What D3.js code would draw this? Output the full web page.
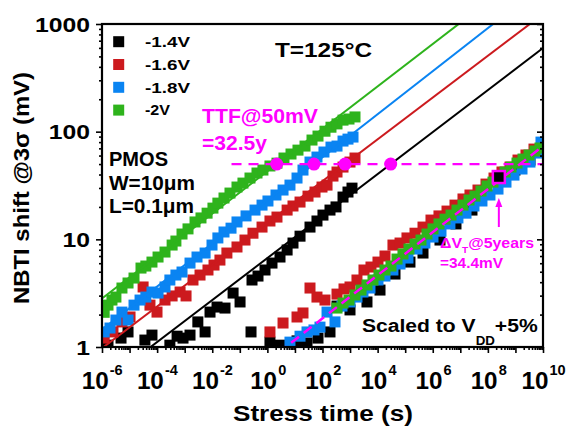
<!DOCTYPE html>
<html><head><meta charset="utf-8">
<script src="https://cdn.jsdelivr.net/npm/d3@7"></script>
<style>
body{margin:0;background:#fff}
svg{display:block}
text{font-family:"Liberation Sans",Arial,sans-serif;font-weight:bold}
</style>
</head><body>
<svg id="c" width="566" height="429"></svg>
<script>
// ---------------- data ----------------
const seriesNames = ["-1.4V","-1.6V","-1.8V","-2V"];
const seriesColors = ["#000000","#cc1a1e","#0a84f2","#2eb31c"];

// fresh (unscaled) stress data: time (s), shift (mV)
const blackT = [1.65e-6,4.9e-6,8.8e-6,3.6e-5,6.5e-5,2.9e-4,5.3e-4,8.7e-4,1.56e-3,3.0e-3,5.5e-3,8.3e-3,1.49e-2,2.9e-2,5.7e-2,0.102,0.255,0.277,0.457,0.82,1.47,2.87,5.2,8.5,15.3,35.2,63,104,187,309,555,841,1175];
const blackV = [1.04,1.21,1.38,1.16,1.29,1.04,1.26,1.21,1.29,1.71,1.38,2.11,2.35,2.3,3.17,2.62,1.38,4.19,4.56,5.19,6.02,6.85,7.96,9.24,10.7,13,14.8,16.8,18.7,20,24.7,27.5,29.9];
const redT = [1.2e-6,2.5e-6,5.3e-6,1.04e-5,3.1e-5,5.5e-5,9.9e-5,1.93e-4,3.5e-4,6.8e-4,1.12e-3,2.0e-3,3.6e-3,7.0e-3,1.16e-2,1.9e-2,3.4e-2,7.9e-2,0.154,0.3,0.64,1.24,2.23,5.2,8.5,15.3,29.8,53.5,96,146,240,336,555,995,1510];
const redV = [1.21,1.38,1.71,1.9,3.61,2.45,2.11,2.73,2.98,3.24,2.98,4.19,4.66,5.19,5.77,6.42,7.46,8.49,9.85,11.4,13,14.8,16.1,18.7,20.4,22.2,25.2,27.5,30.6,31.9,38.7,42.2,46.9,52.2,56.9];
const blueT = [1.2e-6,1.95e-6,3.2e-6,5.3e-6,8.8e-6,1.45e-5,2.4e-5,3.9e-5,6.5e-5,1.08e-4,1.93e-4,2.9e-4,4.8e-4,8.0e-4,1.56e-3,2.8e-3,5.5e-3,9.8e-3,1.6e-2,2.67e-2,4.8e-2,7.9e-2,0.168,0.356,0.64,1.05,2.05,3.7,6.6,11.9,19.6,35.2,63,113,203,336,555,841,1280];
const blueV = [1.38,1.5,1.78,2.11,1.78,2.45,2.73,2.91,3.24,3.17,3.61,4.19,4.66,4.97,6.02,6.85,7.46,8.85,10.3,11.7,12.7,14.5,16.5,18.7,20.8,22.7,25.8,28.7,31.9,37.1,44,52.2,58.1,64.7,71.9,73.5,81.8,85.3,89.1];
const greenT = [1.2e-6,1.65e-6,2.3e-6,3.2e-6,5.3e-6,8.8e-6,1.45e-5,2.6e-5,3.9e-5,6.5e-5,1.08e-4,1.93e-4,3.5e-4,4.8e-4,8.0e-4,1.32e-3,2.37e-3,3.9e-3,6.5e-3,1.06e-2,1.6e-2,2.67e-2,4.4e-2,7.9e-2,0.13,0.234,0.42,0.69,1.24,2.23,4.0,7.2,12.9,23.2,41.6,68.7,123,203,336,555,915,1510];
const greenV = [2.1,2.45,2.73,2.91,3.53,3.93,4.37,5.41,5.65,6.15,6.85,7.62,8.85,9.64,11.2,12.5,14.5,15.8,17.5,19.5,21.7,24.2,26.9,30.6,33.3,37.1,41.3,44,48,51,56.9,62,67.4,73.5,83.6,91,101,110,118,128,131,137];

// data scaled to VDD+5%
const blackST = [1.24,2.87,11.9,27.4,68.7,187,336,995,4110,1.22e4,4.27e4,1.49e5,4.43e5,1.83e6,6.97e6,2.65e7,8.55e7,9.64e8,3.37e9];
const blackSV = [1.11,1.04,1.14,1.09,1.21,1.38,2.4,2.21,2.62,3.38,4.76,6.15,7.46,9.85,13.9,18.7,26.4,44,54.5];
const redST = [1.24,3.7,11.9,19.6,35.2,63,123,336,603,995,1780,3200,5740,1.03e4,1.85e4,3.6e4,6.5e4,1.16e5,2.27e5,4.43e5,8.63e5,1.68e6,3.29e6,6.41e6,1.25e7,2.24e7,4.38e7,8.55e7,1.67e8,3.25e8,6.34e8,1.24e9,2.41e9,4.71e9];
const redSV = [1.38,1.67,1.9,2.07,3.53,2.91,2.73,3.1,3.46,3.61,4.19,5.19,5.53,6.15,7.0,8.85,9.24,10.3,11.4,13,15.1,16.5,18.3,20.8,23.7,25.8,28.7,32.6,37.1,42.2,46.9,54.5,60.7,68.9];
const blueST = [6.6,15.3,27.4,49,81,146,284,510,995,1780,2940,5280,1.03e4,1.85e4,3.6e4,6.5e4,1.26e5,2.68e5,5.2e5,1.02e6,1.99e6,4.2e6,8.2e6,1.61e7,3.13e7,6.1e7,1.19e8,2.33e8,4.54e8,8.85e8,1.73e9,3.37e9,6.58e9,8.45e9];
const blueSV = [1.11,1.26,1.38,1.44,1.53,2.11,1.71,2.4,2.62,2.91,3.24,3.53,4.19,4.56,5.19,5.9,6.7,8.13,9.24,10.5,11.9,13.9,15.8,17.5,20.4,22.7,25.8,29.3,34,39.5,45,52.2,63.3,80];
const greenST = [336,555,915,1510,2495,4110,6790,1.12e4,1.85e4,3.05e4,5.05e4,8.3e4,1.37e5,2.27e5,3.74e5,6.18e5,1.02e6,1.68e6,2.78e6,4.59e6,7.57e6,1.25e7,2.07e7,3.4e7,5.62e7,9.29e7,1.53e8,2.53e8,4.18e8,6.89e8,1.14e9,1.88e9,3.1e9,5.12e9,7.76e9];
const greenSV = [2.3,2.56,2.73,3.04,3.38,3.77,4.19,4.66,5.19,5.65,6.56,7.31,8.13,9.04,9.85,11.2,12.5,13.9,15.4,16.8,18.7,20.8,23.2,25.2,28.1,31.3,34,37.9,42.2,46.9,51.1,55.7,60.7,66.1,70.5];

// power-law fits  V = A * t^n
const fitA = [6.7, 14.2, 23.0, 42.9];
const fitN = [0.195, 0.194, 0.200, 0.197];
const scaledFitA = 0.735, scaledFitN = 0.200;

// TTF @ 50 mV crossing times (s), per series
const ttfLevel = 50;
const ttfTimes = [2.98e4, 655, 49, 2.18];
const ttfLineStart = 0.05;
// 5-year point on scaled data
const hlT = 2.5e8, hlV = 37.9;

const yTicks = [1,10,100,1000];
const xTickExp = [-6,-4,-2,0,2,4,6,8,10];

// ---------------- drawing ----------------
const svg = d3.select("#c");
const L=102, R=543, T=24, B=347;
const x = d3.scaleLog().domain([1e-6,1e10]).range([L,R]);
const y = d3.scaleLog().domain([1,1000]).range([B,T]);
const MAG = "#ff00ff";

svg.append("defs").append("clipPath").attr("id","clip")
  .append("rect").attr("x",L).attr("y",T).attr("width",R-L).attr("height",B-T);

const plot = svg.append("g").attr("clip-path","url(#clip)");

const fresh = [[blackT,blackV],[redT,redV],[blueT,blueV],[greenT,greenV]];
const scaled = [[blackST,blackSV],[redST,redSV],[blueST,blueSV],[greenST,greenSV]];
const SQ = 11;

seriesColors.forEach((col,i)=>{
  [fresh[i], scaled[i]].forEach(([ts,vs])=>{
    plot.append("g").selectAll("rect").data(ts.map((t,k)=>[t,vs[k]])).join("rect")
      .attr("x",d=>x(d[0])-SQ/2).attr("y",d=>y(d[1])-SQ/2)
      .attr("width",SQ).attr("height",SQ).attr("fill",col);
  });
});

// fit lines
const line = d3.line().x(d=>x(d[0])).y(d=>y(d[1]));
const dom = x.domain();
seriesColors.forEach((col,i)=>{
  const pts = dom.map(t=>[t, fitA[i]*Math.pow(t,fitN[i])]);
  plot.append("path").attr("d",line(pts)).attr("fill","none").attr("stroke",col).attr("stroke-width",2);
});

// scaled fit (magenta dashed)
plot.append("path").attr("d",line(dom.map(t=>[t, scaledFitA*Math.pow(t,scaledFitN)])))
  .attr("fill","none").attr("stroke",MAG).attr("stroke-width",2.5).attr("stroke-dasharray","10,6");

// 50 mV line
plot.append("line").attr("x1",x(ttfLineStart)).attr("x2",R).attr("y1",y(ttfLevel)).attr("y2",y(ttfLevel))
  .attr("stroke",MAG).attr("stroke-width",2.2).attr("stroke-dasharray","10,7");

// TTF markers
plot.selectAll("circle.ttf").data(ttfTimes).join("circle").attr("class","ttf")
  .attr("cx",d=>x(d)).attr("cy",y(ttfLevel)).attr("r",6.5).attr("fill",MAG);

// 5-year highlighted point
plot.append("rect").attr("x",x(hlT)-6).attr("y",y(hlV)-6).attr("width",12).attr("height",12)
  .attr("fill","#000").attr("stroke",MAG).attr("stroke-width",2.5);

// arrow
const ax = x(hlT), ay = y(hlV);
svg.append("line").attr("x1",ax).attr("x2",ax).attr("y1",ay+50).attr("y2",ay+28)
  .attr("stroke",MAG).attr("stroke-width",2);
svg.append("path").attr("d",`M${ax},${ay+21} L${ax-3.5},${ay+30} L${ax+3.5},${ay+30} Z`).attr("fill",MAG);

// axes
const majX = d3.range(-6,11).map(e=>Math.pow(10,e));
const minX = []; d3.range(-6,10).forEach(e=>{for(let k=2;k<10;k++) minX.push(k*Math.pow(10,e));});
const minY = []; d3.range(0,3).forEach(e=>{for(let k=2;k<10;k++) minY.push(k*Math.pow(10,e));});

function ax_(g, axis){ g.call(axis); g.select(".domain").remove(); g.selectAll("line").attr("stroke","#000").attr("stroke-width",1.6); }
ax_(svg.append("g").attr("transform",`translate(0,${B})`), d3.axisBottom(x).tickValues(majX).tickSize(6).tickFormat(""));
ax_(svg.append("g").attr("transform",`translate(0,${B})`), d3.axisBottom(x).tickValues(minX).tickSize(3).tickFormat(""));
ax_(svg.append("g").attr("transform",`translate(${L},0)`), d3.axisLeft(y).tickValues(yTicks).tickSize(6).tickFormat(""));
ax_(svg.append("g").attr("transform",`translate(${L},0)`), d3.axisLeft(y).tickValues(minY).tickSize(3).tickFormat(""));
ax_(svg.append("g").attr("transform",`translate(${R},0)`), d3.axisRight(y).tickValues(yTicks).tickSize(-6).tickFormat(""));
ax_(svg.append("g").attr("transform",`translate(${R},0)`), d3.axisRight(y).tickValues(minY).tickSize(-3).tickFormat(""));

svg.append("rect").attr("x",L).attr("y",T).attr("width",R-L).attr("height",B-T)
  .attr("fill","none").attr("stroke","#000").attr("stroke-width",2.2);

function txt(s, px, py, size, len, opts={}){
  const t = svg.append("text").attr("x",px).attr("y",py).attr("font-size",size)
    .attr("fill",opts.fill||"#000").attr("text-anchor",opts.anchor||"start").text(s);
  if(len){ t.attr("textLength",len).attr("lengthAdjust","spacingAndGlyphs"); }
  if(opts.transform) t.attr("transform",opts.transform);
  return t;
}
// text with sub/superscript parts: parts = [[string, size, dy], ...], stretched horizontally by sx
function rich(parts, px, py, sx, fill){
  const t = svg.append("text").attr("transform",`translate(${px},${py}) scale(${sx},1)`)
    .attr("fill",fill||"#000");
  parts.forEach(([s,size,dy])=>{ t.append("tspan").attr("font-size",size).attr("dy",dy).text(s); });
  return t;
}

// y tick labels
yTicks.forEach(v=>{
  const s = String(v);
  txt(s, 90, y(v)+7.5, 21, 13.75*s.length, {anchor:"end"});
});
// x tick labels: 10 with superscript exponent
xTickExp.forEach(e=>{
  const sup = String(e);
  const supW = sup.split("").reduce((a,c)=>a+(c==="-"?6:8.5),0);
  const total = 27+1+supW;
  const cx = x(Math.pow(10,e)) + 1;
  const t = svg.append("text").attr("x",cx - total/2).attr("y",389);
  t.append("tspan").attr("font-size",23).attr("textLength",27).attr("lengthAdjust","spacingAndGlyphs").text("10");
  t.append("tspan").attr("font-size",14.5).attr("dx",1).attr("dy",-14).text(sup);
});

// axis titles
txt("Stress time (s)", 323, 421, 22, 180, {anchor:"middle"});
txt("NBTI shift @3\u03c3 (mV)", 0, 0, 22, 232, {anchor:"middle", transform:"translate(29,188) rotate(-90)"});

// legend
seriesNames.forEach((n,i)=>{
  const cy = 41.7 + i*22.8;
  svg.append("rect").attr("x",113.2).attr("y",cy-5.5).attr("width",11).attr("height",11).attr("fill",seriesColors[i]);
  txt(n, 145, cy+5.3, 15.5, n.length>3?45:25);
});

// annotations
txt("T=125\u00b0C", 275, 57, 21, 97);
txt("PMOS", 109, 166, 19.5, 59);
txt("W=10\u03bcm", 109, 189.5, 19.5, 86);
txt("L=0.1\u03bcm", 109, 213, 19.5, 85);
txt("TTF@50mV", 202, 123, 20, 116, {fill:MAG});
txt("=32.5y", 202, 150, 20, 65, {fill:MAG});
rich([["\u0394V",15,0],["T",9.5,5],["@5years",15,-5]], 440, 248, 1.06, MAG);
txt("=34.4mV", 440, 268, 15, 63, {fill:MAG});
rich([["Scaled to V",19,0],["DD",12,13],["+5%",19,-13]], 362, 332, 1.11, "#000");
</script>
</body></html>
